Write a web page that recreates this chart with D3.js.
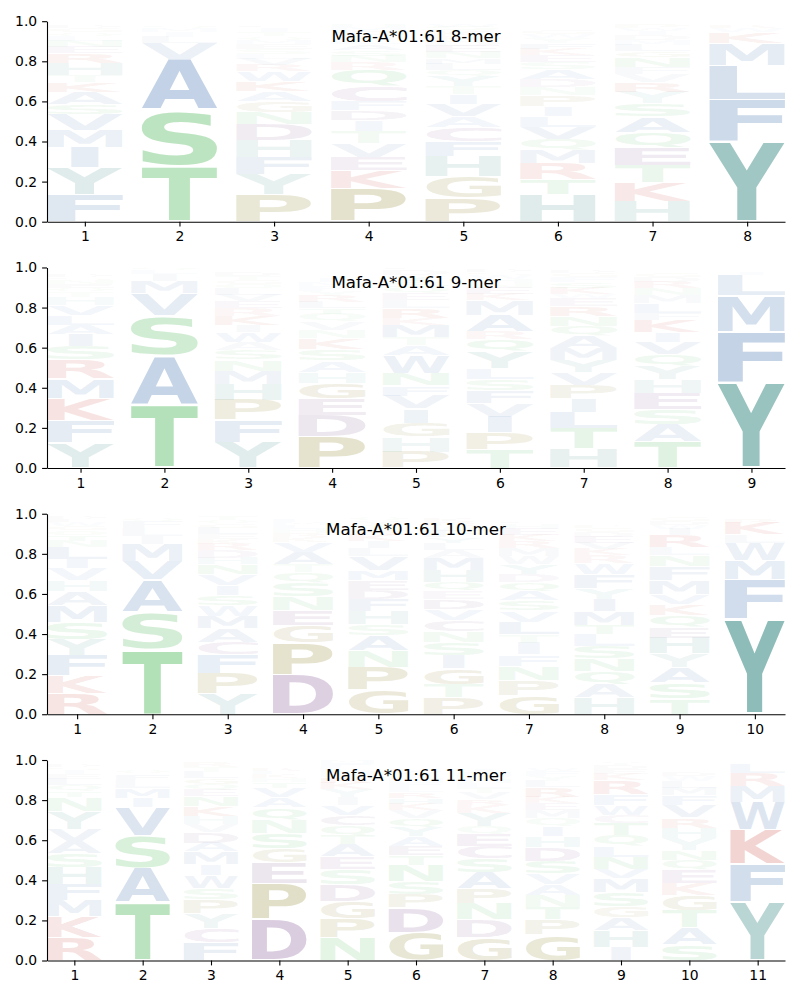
<!DOCTYPE html>
<html>
<head>
<meta charset="utf-8">
<script src="https://cdnjs.cloudflare.com/ajax/libs/d3/7.8.5/d3.min.js"></script>
<style>
  body { margin: 0; background: #fff; }
  text { font-family: "DejaVu Sans", sans-serif; }
</style>
</head>
<body>
<svg id="chart" width="800" height="1000"></svg>
<script>
// each string: residues of one position, listed from the bottom of the stack upward
const letters8 = ["FYIMVSAKTHRENLQGDWPC", "TSAVLIMQFC", "PYFHDNGAKWRVLSEMQTIC", "PKEVTIDFCQRNSALYGMHW",
  "PGHFCAVITYQLMNEDRKSW", "HTRMQVLIPNDASEKFYWGC", "HKTEQASYRVFNGLMDIWPC", "YFLMKWRIV"];
const values8 = [
  [.135,.135,.10,.085,.08,.05,.06,.05,.035,.06,.05,.03,.03,.025,.02,.02,.015,.01,.01,.005],
  [.275,.28,.255,.08,.03,.025,.02,.015,.01,.01],
  [.135,.10,.085,.085,.08,.06,.055,.05,.05,.05,.03,.03,.025,.025,.025,.02,.02,.02,.02,.015],
  [.165,.09,.068,.068,.058,.056,.05,.045,.075,.08,.04,.03,.03,.03,.025,.02,.02,.02,.015,.01],
  [.12,.105,.10,.075,.07,.055,.06,.05,.04,.053,.03,.03,.03,.03,.03,.025,.025,.025,.02,.015],
  [.135,.078,.078,.065,.056,.06,.055,.05,.055,.04,.04,.05,.035,.035,.03,.03,.025,.02,.02,.01],
  [.10,.095,.087,.086,.078,.077,.066,.058,.047,.04,.035,.05,.03,.03,.025,.025,.02,.015,.02,.01],
  [.40,.21,.17,.11,.057,.02,.015,.01,.008]
];

const letters9 = ["YFKMRSIALVHTQENGDWPC", "TASVMILQ", "YFPHMNSAWIKREVLQGTDC", "PDEGHASKNVQTLRYFMIWC",
  "PHGIVFNWATMKRLEQSYDC", "TPIVFSLYQRAMKENHWGDC", "HTLIPVYMAQNREWKSFGDC", "TASEHYQVIKFLMNRDGWPC", "YFMLIWV"];
const values9 = [
  [.125,.11,.112,.097,.095,.067,.06,.047,.05,.05,.04,.025,.02,.02,.02,.015,.015,.01,.01,.005],
  [.315,.245,.20,.11,.06,.035,.02,.015],
  [.128,.11,.10,.078,.068,.056,.046,.04,.05,.036,.045,.04,.035,.03,.03,.025,.02,.02,.02,.01],
  [.158,.106,.08,.078,.057,.056,.058,.056,.04,.04,.04,.03,.03,.03,.025,.025,.02,.02,.01,.01],
  [.08,.075,.07,.07,.065,.05,.06,.09,.05,.04,.06,.035,.05,.04,.035,.03,.03,.03,.025,.015],
  [.093,.083,.078,.067,.064,.055,.057,.083,.06,.04,.08,.075,.03,.03,.025,.02,.02,.015,.015,.01],
  [.098,.10,.078,.07,.067,.064,.06,.06,.06,.05,.05,.05,.04,.02,.03,.03,.025,.02,.015,.01],
  [.13,.087,.075,.078,.07,.066,.06,.06,.05,.063,.035,.05,.04,.035,.03,.025,.02,.01,.01,.005],
  [.43,.25,.18,.10,.015,.01,.01]
];

const letters10 = ["RKFYSMAHVILNTQGWEDPC", "TSAVMILFQC", "YPFCAMWSIVNHDRKELGQT", "DPGENSQTAVKRHLMFYIWC",
  "GPNASHFDEMVLIKRTYQWC", "PTGISNCVDEQHMALYFWRK", "GPNFITLVSAQDYWMRKEHC", "HAQNSLTMIYFWRKVEDGPC",
  "TSAYHEQKVMFNLRIWDGPC", "YFMWLKRIV"];
const values10 = [
  [.103,.09,.10,.078,.087,.083,.07,.057,.058,.045,.06,.03,.03,.025,.02,.02,.015,.015,.01,.005],
  [.325,.185,.16,.093,.085,.04,.04,.03,.02,.01],
  [.103,.10,.093,.062,.07,.062,.055,.05,.05,.055,.05,.03,.04,.03,.025,.025,.03,.02,.02,.02],
  [.195,.16,.088,.077,.067,.067,.053,.04,.06,.05,.025,.02,.02,.02,.015,.015,.01,.01,.005,.005],
  [.12,.115,.08,.078,.055,.065,.06,.045,.05,.05,.07,.04,.035,.03,.025,.025,.02,.02,.01,.005],
  [.082,.067,.079,.065,.066,.055,.053,.055,.05,.042,.045,.06,.06,.04,.035,.03,.03,.025,.02,.02],
  [.095,.075,.07,.057,.058,.043,.063,.055,.05,.047,.045,.04,.05,.04,.04,.035,.03,.03,.025,.015],
  [.082,.067,.067,.063,.06,.058,.045,.07,.06,.055,.07,.055,.04,.03,.03,.03,.025,.02,.015,.01],
  [.078,.08,.078,.067,.078,.053,.06,.055,.05,.07,.07,.055,.04,.06,.03,.02,.02,.02,.01,.005],
  [.475,.195,.097,.088,.04,.06,.02,.01,.01]
];

const letters11 = ["RKMFHSAVYNTQLEIGDWPC", "TASVIMLFQCYGN", "FCYPSWIMADVHKNEQGLTR", "DPEGSNQAVTHKLRYFMIWC",
  "NPGDSEATQCVIYKRHLFMW", "GDPSNTEAYQVKHRLFMIWC", "GDNPASCEQYKRVTLHFMIW", "GPTNAVSDHIQMEKRLYFWC",
  "IHAGSMVNLQTCWFRKEDYP", "SATGKEQNYHRVFMLWDIPC", "YFKWMRLIV"];
const values11 = [
  [.115,.105,.08,.08,.085,.07,.06,.06,.09,.07,.03,.03,.03,.025,.02,.015,.015,.01,.01,.005],
  [.29,.17,.16,.145,.045,.05,.04,.03,.02,.01,.01,.01,.01],
  [.09,.072,.072,.07,.058,.063,.055,.062,.045,.053,.04,.04,.05,.05,.03,.03,.03,.03,.025,.025],
  [.207,.178,.105,.067,.078,.067,.06,.05,.05,.03,.02,.02,.015,.015,.01,.01,.01,.005,.002,.003],
  [.115,.095,.087,.083,.075,.063,.06,.045,.05,.05,.05,.04,.04,.03,.03,.025,.025,.02,.015,.01],
  [.14,.125,.065,.065,.08,.05,.045,.05,.045,.045,.04,.03,.03,.03,.025,.025,.02,.02,.015,.015],
  [.115,.09,.08,.075,.08,.07,.06,.06,.04,.065,.04,.03,.03,.025,.025,.02,.02,.015,.015,.01],
  [.13,.075,.062,.058,.055,.055,.06,.07,.055,.05,.04,.04,.035,.03,.05,.03,.025,.025,.015,.01],
  [.065,.083,.065,.058,.07,.07,.045,.06,.055,.055,.06,.04,.05,.055,.07,.03,.025,.02,.015,.01],
  [.08,.083,.088,.075,.058,.067,.05,.05,.058,.053,.05,.06,.05,.04,.035,.025,.02,.01,.005,.005],
  [.29,.19,.17,.14,.08,.065,.05,.01,.005]
];

const titles = ["Mafa-A*01:61 8-mer", "Mafa-A*01:61 9-mer", "Mafa-A*01:61 10-mer", "Mafa-A*01:61 11-mer"];
const yTicks = [0, 0.2, 0.4, 0.6, 0.8, 1.0];

const aaColor = {
  Y: "#88b9b5", H: "#88b9b5",
  A: "#89a7cd", V: "#89a7cd", L: "#89a7cd", I: "#89a7cd", M: "#89a7cd", F: "#89a7cd", W: "#89a7cd",
  S: "#89cf90", T: "#89cf90", N: "#89cf90", Q: "#89cf90",
  P: "#aea564", G: "#aea564",
  D: "#a787b1", E: "#a787b1", C: "#a787b1",
  K: "#d9837d", R: "#d9837d"
};

const panels = [
  {letters: letters8, values: values8},
  {letters: letters9, values: values9},
  {letters: letters10, values: values10},
  {letters: letters11, values: values11}
];

const svg = d3.select('#chart');
const left = 47, right = 785;
const panelH = 200.5;
const vpad = 0.05;
const glyphWidth = 0.8;

// ink box of each glyph, so a letter can be stretched to fill its slot
const ctx = document.createElement('canvas').getContext('2d');
const FS = 100;
ctx.font = `bold ${FS}px "DejaVu Sans"`;
const inkCache = {};
function ink(ch) {
  if (!inkCache[ch]) {
    const m = ctx.measureText(ch);
    inkCache[ch] = {l: m.actualBoundingBoxLeft, r: m.actualBoundingBoxRight,
                    a: m.actualBoundingBoxAscent, d: m.actualBoundingBoxDescent};
  }
  return inkCache[ch];
}

panels.forEach((p, i) => {
  const n = p.letters.length;
  const top = 21.2 + i * 246.27;
  const bottom = top + panelH;

  const x = d3.scaleLinear().domain([1 - glyphWidth / 2, n + glyphWidth / 2]).range([left, right]);
  const y = d3.scaleLinear().domain([0, 1]).range([bottom, top]);

  const g = svg.append('g');

  p.letters.forEach((str, j) => {
    const pos = j + 1;
    let base = 0;
    str.split('').forEach((ch, k) => {
      const v = p.values[j][k];
      const m = ink(ch);
      let x0 = x(pos - glyphWidth / 2), x1 = x(pos + glyphWidth / 2);
      if (ch === 'I') {
        const c = (x0 + x1) / 2, hw = (x1 - x0) * 0.18;
        x0 = c - hw; x1 = c + hw;
      }
      const yTop = y(base + v * (1 - vpad / 2));
      const yBot = y(base + v * vpad / 2);
      const sx = (x1 - x0) / (m.l + m.r);
      const sy = (yBot - yTop) / (m.a + m.d);
      g.append('text')
        .text(ch)
        .attr('font-weight', 'bold')
        .attr('font-size', FS)
        .attr('fill', aaColor[ch])
        .attr('fill-opacity', Math.min(1, 2 * v))
        .attr('transform', `translate(${x0},${yTop}) scale(${sx},${sy}) translate(${m.l},${m.a})`);
      base += v;
    });
  });

  const yAxis = g.append('g')
    .attr('transform', `translate(${left},0)`)
    .call(d3.axisLeft(y).tickValues(yTicks).tickFormat(d3.format('.1f'))
      .tickSize(4.9).tickPadding(4.9).tickSizeOuter(0));

  const xAxis = g.append('g')
    .attr('transform', `translate(0,${bottom})`)
    .call(d3.axisBottom(x).tickValues(d3.range(1, n + 1)).tickFormat(d3.format('d'))
      .tickSize(4.9).tickPadding(4.9).tickSizeOuter(0));

  [yAxis, xAxis].forEach(a => {
    a.selectAll('text').attr('font-size', 13.9).attr('font-family', 'DejaVu Sans').attr('fill', '#000');
    a.selectAll('line, path').attr('stroke', '#000').attr('stroke-width', 1.1);
  });

  g.append('text')
    .attr('x', (left + right) / 2)
    .attr('y', top + 21)
    .attr('text-anchor', 'middle')
    .attr('font-size', 16.67)
    .attr('fill', '#000')
    .text(titles[i]);
});
</script>
</body>
</html>
